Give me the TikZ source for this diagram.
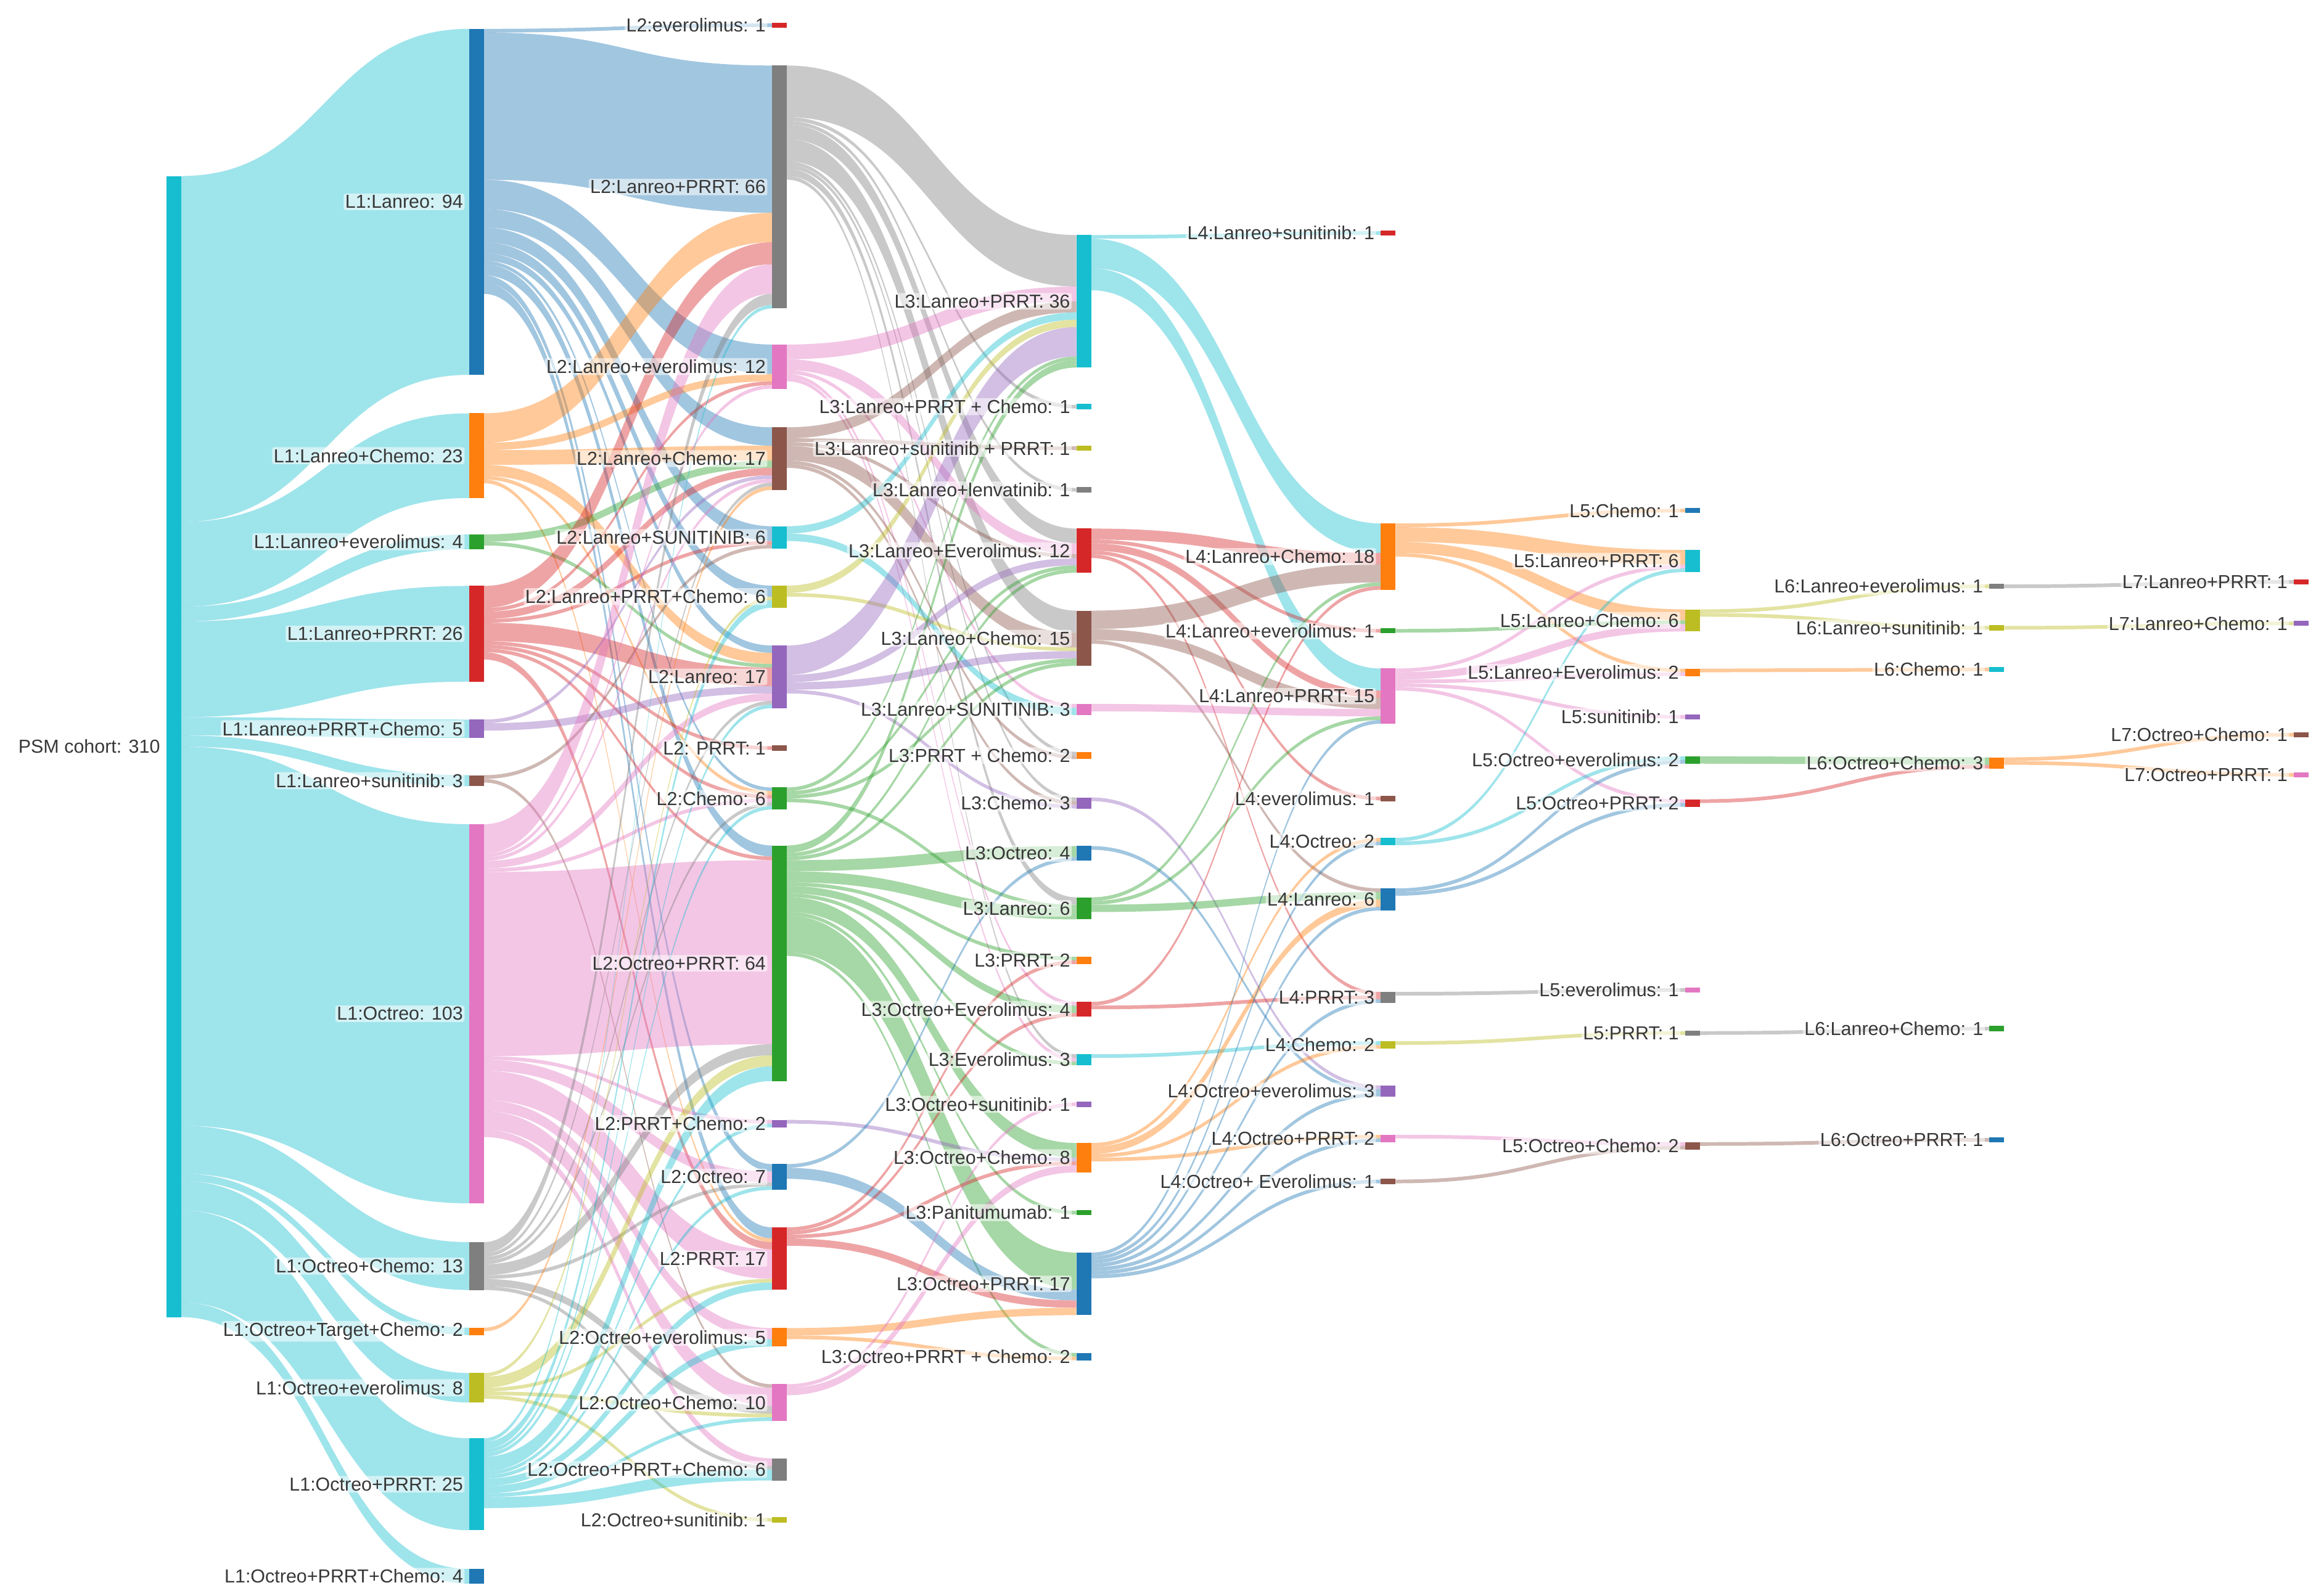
\documentclass[tikz,border=0pt]{standalone}
\usepackage{fontspec}
\setmainfont{Liberation Sans}
\usetikzlibrary{backgrounds}
\definecolor{cB}{HTML}{1F77B4}\definecolor{cO}{HTML}{FF7F0E}\definecolor{cG}{HTML}{2CA02C}
\definecolor{cR}{HTML}{D62728}\definecolor{cP}{HTML}{9467BD}\definecolor{cN}{HTML}{8C564B}
\definecolor{cK}{HTML}{E377C2}\definecolor{cY}{HTML}{7F7F7F}\definecolor{cL}{HTML}{BCBD22}
\definecolor{cC}{HTML}{17BECF}
\def\U{2.48}
\newcommand\nd[6]{%
 \pgfmathsetmacro\ndh{#4*\U}%
 \pgfmathsetmacro\ndt{#3-\ndh/2}%
 \expandafter\xdef\csname nx@#1\endcsname{#2}%
 \expandafter\xdef\csname ny@#1\endcsname{\ndt}%
 \expandafter\xdef\csname no@#1\endcsname{0}%
 \expandafter\xdef\csname ni@#1\endcsname{0}%
 \expandafter\xdef\csname nc@#1\endcsname{#5}%
 \pgfmathsetmacro\ndhh{max(\ndh,3.5)}%
 \node[bar, fill=#5, minimum height=\ndhh*0.05cm] (#1) at (#2+5,#3) {};
 \node[lbl, anchor=east] (#1-l) at (#2-3,#3) {#6};
}
\newcommand\fl[3]{%
 \pgfmathsetmacro\fh{#3*\U}%
 \pgfmathsetmacro\fya{\csname ny@#1\endcsname+\csname no@#1\endcsname}%
 \pgfmathsetmacro\fyb{\csname ny@#2\endcsname+\csname ni@#2\endcsname}%
 \pgfmathsetmacro\fyc{\fya+\fh}%
 \pgfmathsetmacro\fyd{\fyb+\fh}%
 \pgfmathsetmacro\fxa{\csname nx@#1\endcsname+10}%
 \pgfmathsetmacro\fxb{\csname nx@#2\endcsname}%
 \pgfmathsetmacro\fxm{(\fxa+\fxb)/2}%
 \edef\fcol{\csname nc@#1\endcsname}%
 \fill[fill=\fcol, fill opacity=0.42] (\fxa,\fya) .. controls (\fxm,\fya) and (\fxm,\fyb) .. (\fxb,\fyb) -- (\fxb,\fyd) .. controls (\fxm,\fyd) and (\fxm,\fyc) .. (\fxa,\fyc) -- cycle;
 \pgfmathsetmacro\fna{\csname no@#1\endcsname+\fh}%
 \expandafter\xdef\csname no@#1\endcsname{\fna}%
 \pgfmathsetmacro\fnb{\csname ni@#2\endcsname+\fh}%
 \expandafter\xdef\csname ni@#2\endcsname{\fnb}%
}
\newcommand\fls[2]{\foreach \tt/\vv in {#2} {\fl{#1}{\tt}{\vv}}}
\begin{document}
\begin{tikzpicture}[x=0.05cm,y=-0.05cm,
 bar/.style={rectangle,draw=none,inner sep=0pt,minimum width=0.5cm},
 lbl/.style={font=\fontsize{18}{20}\selectfont,text=black!78,fill=white,fill opacity=0.55,text opacity=1,rounded corners=2pt,inner sep=1.5pt}]
\useasboundingbox (0,0) rectangle (1560,1075);
% L0
\nd{P}{112}{503}{310}{cC}{PSM cohort: 310}
% L1
\nd{La}{316}{136}{94}{cB}{L1:Lanreo: 94}
\nd{LaC}{316}{307}{23}{cO}{L1:Lanreo+Chemo: 23}
\nd{LaE}{316}{365}{4}{cG}{L1:Lanreo+everolimus: 4}
\nd{LaP}{316}{427}{26}{cR}{L1:Lanreo+PRRT: 26}
\nd{LaPC}{316}{491}{5}{cP}{L1:Lanreo+PRRT+Chemo: 5}
\nd{LaS}{316}{526}{3}{cN}{L1:Lanreo+sunitinib: 3}
\nd{Oc}{316}{683}{103}{cK}{L1:Octreo: 103}
\nd{OcC}{316}{853}{13}{cY}{L1:Octreo+Chemo: 13}
\nd{OcTC}{316}{897}{2}{cO}{L1:Octreo+Target+Chemo: 2}
\nd{OcE}{316}{935}{8}{cL}{L1:Octreo+everolimus: 8}
\nd{OcP}{316}{1000}{25}{cC}{L1:Octreo+PRRT: 25}
\nd{OcPC}{316}{1062}{4}{cB}{L1:Octreo+PRRT+Chemo: 4}
% L2
\nd{bE}{520}{17}{1}{cR}{L2:everolimus: 1}
\nd{bLP}{520}{126}{66}{cY}{L2:Lanreo+PRRT: 66}
\nd{bLE}{520}{247}{12}{cK}{L2:Lanreo+everolimus: 12}
\nd{bLC}{520}{309}{17}{cN}{L2:Lanreo+Chemo: 17}
\nd{bLS}{520}{362}{6}{cC}{L2:Lanreo+SUNITINIB: 6}
\nd{bLPC}{520}{402}{6}{cL}{L2:Lanreo+PRRT+Chemo: 6}
\nd{bL}{520}{456}{17}{cP}{L2:Lanreo: 17}
\nd{bPa}{520}{504}{1}{cN}{L2: PRRT: 1}
\nd{bC}{520}{538}{6}{cG}{L2:Chemo: 6}
\nd{bOP}{520}{649}{64}{cG}{L2:Octreo+PRRT: 64}
\nd{bPC}{520}{757}{2}{cP}{L2:PRRT+Chemo: 2}
\nd{bO}{520}{793}{7}{cB}{L2:Octreo: 7}
\nd{bP}{520}{848}{17}{cR}{L2:PRRT: 17}
\nd{bOE}{520}{901}{5}{cO}{L2:Octreo+everolimus: 5}
\nd{bOC}{520}{945}{10}{cK}{L2:Octreo+Chemo: 10}
\nd{bOPC}{520}{990}{6}{cY}{L2:Octreo+PRRT+Chemo: 6}
\nd{bOS}{520}{1024}{1}{cL}{L2:Octreo+sunitinib: 1}
% L3
\nd{cLP}{725}{203}{36}{cC}{L3:Lanreo+PRRT: 36}
\nd{cLPC}{725}{274}{1}{cC}{L3:Lanreo+PRRT + Chemo: 1}
\nd{cLSP}{725}{302}{1}{cL}{L3:Lanreo+sunitinib + PRRT: 1}
\nd{cLl}{725}{330}{1}{cY}{L3:Lanreo+lenvatinib: 1}
\nd{cLE}{725}{371}{12}{cR}{L3:Lanreo+Everolimus: 12}
\nd{cLC}{725}{430}{15}{cN}{L3:Lanreo+Chemo: 15}
\nd{cLS}{725}{478}{3}{cK}{L3:Lanreo+SUNITINIB: 3}
\nd{cPC}{725}{509}{2}{cO}{L3:PRRT + Chemo: 2}
\nd{cC}{725}{541}{3}{cP}{L3:Chemo: 3}
\nd{cO}{725}{575}{4}{cB}{L3:Octreo: 4}
\nd{cL}{725}{612}{6}{cG}{L3:Lanreo: 6}
\nd{cP}{725}{647}{2}{cO}{L3:PRRT: 2}
\nd{cOE}{725}{680}{4}{cR}{L3:Octreo+Everolimus: 4}
\nd{cE}{725}{714}{3}{cC}{L3:Everolimus: 3}
\nd{cOS}{725}{744}{1}{cP}{L3:Octreo+sunitinib: 1}
\nd{cOC}{725}{780}{8}{cO}{L3:Octreo+Chemo: 8}
\nd{cPn}{725}{817}{1}{cG}{L3:Panitumumab: 1}
\nd{cOP}{725}{865}{17}{cB}{L3:Octreo+PRRT: 17}
\nd{cOPC}{725}{914}{2}{cB}{L3:Octreo+PRRT + Chemo: 2}
% L4
\nd{dLS}{930}{157}{1}{cR}{L4:Lanreo+sunitinib: 1}
\nd{dLC}{930}{375}{18}{cO}{L4:Lanreo+Chemo: 18}
\nd{dLE}{930}{425}{1}{cG}{L4:Lanreo+everolimus: 1}
\nd{dLP}{930}{469}{15}{cK}{L4:Lanreo+PRRT: 15}
\nd{dE}{930}{538}{1}{cN}{L4:everolimus: 1}
\nd{dO}{930}{567}{2}{cC}{L4:Octreo: 2}
\nd{dL}{930}{606}{6}{cB}{L4:Lanreo: 6}
\nd{dP}{930}{672}{3}{cY}{L4:PRRT: 3}
\nd{dC}{930}{704}{2}{cL}{L4:Chemo: 2}
\nd{dOE}{930}{735}{3}{cP}{L4:Octreo+everolimus: 3}
\nd{dOP}{930}{767}{2}{cK}{L4:Octreo+PRRT: 2}
\nd{dOEb}{930}{796}{1}{cN}{L4:Octreo+ Everolimus: 1}
% L5
\nd{eC}{1135}{344}{1}{cB}{L5:Chemo: 1}
\nd{eLP}{1135}{378}{6}{cC}{L5:Lanreo+PRRT: 6}
\nd{eLC}{1135}{418}{6}{cL}{L5:Lanreo+Chemo: 6}
\nd{eLE}{1135}{453}{2}{cO}{L5:Lanreo+Everolimus: 2}
\nd{eS}{1135}{483}{1}{cP}{L5:sunitinib: 1}
\nd{eOE}{1135}{512}{2}{cG}{L5:Octreo+everolimus: 2}
\nd{eOP}{1135}{541}{2}{cR}{L5:Octreo+PRRT: 2}
\nd{eE}{1135}{667}{1}{cK}{L5:everolimus: 1}
\nd{eP}{1135}{696}{1}{cY}{L5:PRRT: 1}
\nd{eOC}{1135}{772}{2}{cN}{L5:Octreo+Chemo: 2}
% L6
\nd{fLE}{1340}{395}{1}{cY}{L6:Lanreo+everolimus: 1}
\nd{fLS}{1340}{423}{1}{cL}{L6:Lanreo+sunitinib: 1}
\nd{fC}{1340}{451}{1}{cC}{L6:Chemo: 1}
\nd{fOC}{1340}{514}{3}{cO}{L6:Octreo+Chemo: 3}
\nd{fLC}{1340}{693}{1}{cG}{L6:Lanreo+Chemo: 1}
\nd{fOP}{1340}{768}{1}{cB}{L6:Octreo+PRRT: 1}
% L7
\nd{gLP}{1545}{392}{1}{cR}{L7:Lanreo+PRRT: 1}
\nd{gLC}{1545}{420}{1}{cP}{L7:Lanreo+Chemo: 1}
\nd{gOC}{1545}{495}{1}{cN}{L7:Octreo+Chemo: 1}
\nd{gOP}{1545}{522}{1}{cK}{L7:Octreo+PRRT: 1}
\begin{scope}[on background layer]
\fls{P}{La/94,LaC/23,LaE/4,LaP/26,LaPC/5,LaS/3,Oc/103,OcC/13,OcTC/2,OcE/8,OcP/25,OcPC/4}
\fls{La}{bE/1,bLP/40,bLE/8,bLC/5,bLS/4,bLPC/3,bL/2,bC/1,bOP/3,bO/2,bP/3}
\fls{LaC}{bLP/8,bLE/2,bLC/4,bL/3,bC/1,bP/1}
\fls{LaE}{bLC/2,bL/1}
\fls{LaP}{bLP/6,bLE/1,bLC/2,bLS/1,bL/5,bPa/1,bC/1,bOP/1,bP/2}
\fls{LaPC}{bLC/1,bL/2}
\fls{LaS}{bLS/1,bOC/1}
\fls{Oc}{bLP/8,bLE/1,bLC/1,bL/2,bC/1,bOP/50,bPC/1,bO/3,bP/8,bOE/3,bOC/5,bOPC/2}
\fls{OcC}{bLP/3,bLC/1,bL/1,bC/1,bOP/3,bO/1,bOC/2,bOPC/1}
\fls{OcTC}{bLC/1}
\fls{OcE}{bLPC/1,bOP/3,bP/1,bOC/1,bOS/1}
\fls{OcP}{bLP/1,bLPC/2,bL/1,bC/1,bOP/4,bPC/1,bO/1,bP/2,bOE/2,bOC/1,bOPC/3}
\fls{bLP}{cLP/14,cLPC/1,cLl/1,cLE/4,cLC/6,cPC/1,cC/1,cL/2,cE/1}
\fls{bLE}{cLP/4,cLE/3,cLS/1,cOE/1,cE/1}
\fls{bLC}{cLP/3,cLSP/1,cLE/1,cLC/4,cPC/1,cC/1}
\fls{bLS}{cLP/2,cLS/2}
\fls{bLPC}{cLP/2,cLC/1}
\fls{bL}{cLP/8,cLE/2,cLC/2,cC/1}
\fls{bC}{cLP/1,cLE/1,cLC/1,cL/1}
\fls{bOP}{cLP/2,cLE/1,cLC/1,cO/3,cL/3,cP/1,cOE/2,cE/1,cOC/4,cPn/1,cOP/10,cOPC/1}
\fls{bPC}{cOC/1}
\fls{bO}{cO/1,cOP/3}
\fls{bP}{cP/1,cOE/1,cOC/1,cOP/2}
\fls{bOE}{cOP/2,cOPC/1}
\fls{bOC}{cOS/1,cOC/2}
\fls{cLP}{dLS/1,dLC/8,dLP/6}
\fls{cLE}{dLC/3,dLE/1,dLP/2,dE/1,dP/1}
\fls{cLC}{dLC/5,dLP/3,dL/1}
\fls{cLS}{dLP/2}
\fls{cC}{dOE/1}
\fls{cO}{dOE/1}
\fls{cL}{dLC/1,dLP/1,dL/2}
\fls{cOE}{dLC/1,dP/1}
\fls{cE}{dC/1}
\fls{cOC}{dO/1,dL/2,dC/1,dOP/1}
\fls{cOP}{dLP/1,dO/1,dL/1,dP/1,dOE/1,dOP/1,dOEb/1}
\fls{dLC}{eC/1,eLP/4,eLC/3,eLE/1}
\fls{dLE}{eLC/1}
\fls{dLP}{eLP/1,eLC/2,eLE/1,eS/1,eOP/1}
\fls{dO}{eLP/1,eOE/1}
\fls{dL}{eOE/1,eOP/1}
\fls{dP}{eE/1}
\fls{dC}{eP/1}
\fls{dOP}{eOC/1}
\fls{dOEb}{eOC/1}
\fls{eLC}{fLE/1,fLS/1}
\fls{eLE}{fC/1}
\fls{eOE}{fOC/2}
\fls{eOP}{fOC/1}
\fls{eP}{fLC/1}
\fls{eOC}{fOP/1}
\fls{fLE}{gLP/1}
\fls{fLS}{gLC/1}
\fls{fOC}{gOC/1,gOP/1}
\end{scope}
\end{tikzpicture}
\end{document}
